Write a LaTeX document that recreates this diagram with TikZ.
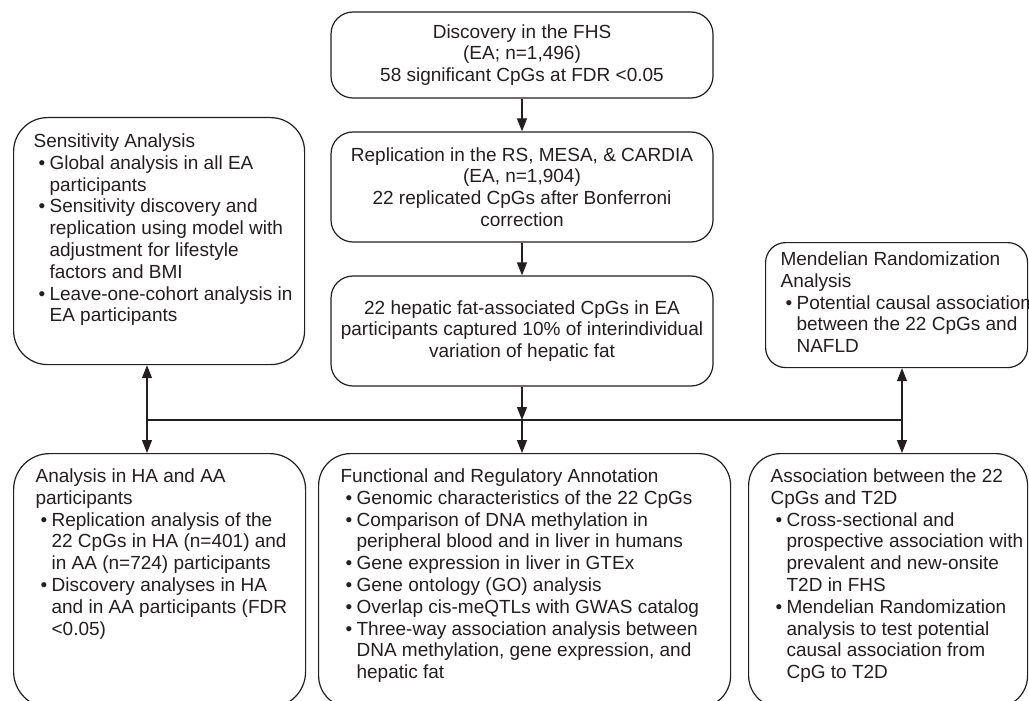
\documentclass[tikz,border=0pt]{standalone}
\usepackage{fontspec}
\setmainfont{Liberation Sans}
\usetikzlibrary{arrows.meta}
\definecolor{ink}{RGB}{35,31,32}
% bullet line with hanging indent
\newcommand{\bul}{\par\hangindent=8pt\hangafter=1\noindent\makebox[8pt][l]{\hspace{2.5pt}\textbullet}}
% top aligned panel text: width, height, left margin, top margin, text
\newcommand{\panelbody}[5]{\parbox[c][#2][t]{#1}{\raggedright\leftskip=#3\relax\rightskip=-12pt plus 1fil\relax\vspace*{#4}\strut\ignorespaces#5}}

\begin{document}
\begin{tikzpicture}
[ x=0.5pt, y=-0.5pt, line width=0.6pt
, stage/.style={rectangle, draw=ink, text=ink, rounded corners=11pt, minimum width=191pt, minimum height=55pt, inner sep=0pt, align=center, font=\fontsize{9.5}{10.9}\selectfont}
, panel/.style={rectangle, draw=ink, text=ink, inner sep=0pt, anchor=north west, font=\fontsize{9.5}{10.9}\selectfont}
, arrow/.style={draw=ink, -{Triangle[width=5pt,length=6.5pt]}}
, link/.style={draw=ink}
]
\path [use as bounding box, fill=white] (0,0) rectangle (1029,701);
\clip (0,0) rectangle (1029,701);
% Main column:
\node (fhs) [stage, minimum height=43pt] at (522,55)
  {Discovery in the FHS\\(EA; n=1,496)\\58 significant CpGs at FDR <0.05};
\node (rep) [stage] at (522,187)
  {Replication in the RS, MESA, \& CARDIA\\(EA, n=1,904)\\22 replicated CpGs after Bonferroni\\correction};
\node (hep) [stage] at (522,331)
  {22 hepatic fat-associated CpGs in EA\\participants captured 10\% of interindividual\\variation of hepatic fat};
% Side panels:
\node (sens) [panel, rounded corners=17pt] at (13,117)
  {\panelbody{145.5pt}{123.5pt}{10pt}{7.3pt}{Sensitivity Analysis
   \bul Global analysis in all EA\newline participants
   \bul Sensitivity discovery and\newline replication using model with\newline adjustment for lifestyle\newline factors and BMI
   \bul Leave-one-cohort analysis in\newline EA participants}};
\node (mr) [panel, rounded corners=10pt] at (765,242)
  {\panelbody{131pt}{62.5pt}{7.5pt}{3.8pt}{Mendelian Randomization\newline Analysis
   \bul Potential causal association\newline between the 22 CpGs and\newline NAFLD}};
% Bottom row:
\node (hapa) [panel, rounded corners=18pt] at (13,453)
  {\panelbody{146pt}{127pt}{11pt}{6.8pt}{Analysis in HA and AA\newline participants
   \bul Replication analysis of the\newline 22 CpGs in HA (n=401) and\newline in AA (n=724) participants
   \bul Discovery analyses in HA\newline and in AA participants (FDR\newline <0.05)}};
\node (func) [panel, rounded corners=16pt] at (318,453)
  {\panelbody{206pt}{127pt}{11pt}{6.8pt}{Functional and Regulatory Annotation
   \bul Genomic characteristics of the 22 CpGs
   \bul Comparison of DNA methylation in\newline peripheral blood and in liver in humans
   \bul Gene expression in liver in GTEx
   \bul Gene ontology (GO) analysis
   \bul Overlap cis-meQTLs with GWAS catalog
   \bul Three-way association analysis between\newline DNA methylation, gene expression, and\newline hepatic fat}};
\node (t2d) [panel, rounded corners=16pt] at (748,453)
  {\panelbody{139.5pt}{127pt}{11pt}{6.8pt}{Association between the 22\newline CpGs and T2D
   \bul Cross-sectional and\newline prospective association with\newline prevalent and new-onsite\newline T2D in FHS
   \bul Mendelian Randomization\newline analysis to test potential\newline causal association from\newline CpG to T2D}};
% Junctions on the cross line:
\coordinate (jl) at (147,420);
\coordinate (jm) at (hep.south |- jl);
\coordinate (jr) at (902,420);
\draw [arrow] (fhs) -- (rep);
\draw [arrow] (rep) -- (hep);
\draw [arrow] (hep) -- (jm);
\draw [link] (jl) -- (jr);
\draw [arrow] (jl) -- (jl |- sens.south);
\draw [arrow] (jl) -- (jl |- hapa.north);
\draw [arrow] (jm) -- (jm |- func.north);
\draw [arrow] (jr) -- (jr |- mr.south);
\draw [arrow] (jr) -- (jr |- t2d.north);
\end{tikzpicture}
\end{document}
